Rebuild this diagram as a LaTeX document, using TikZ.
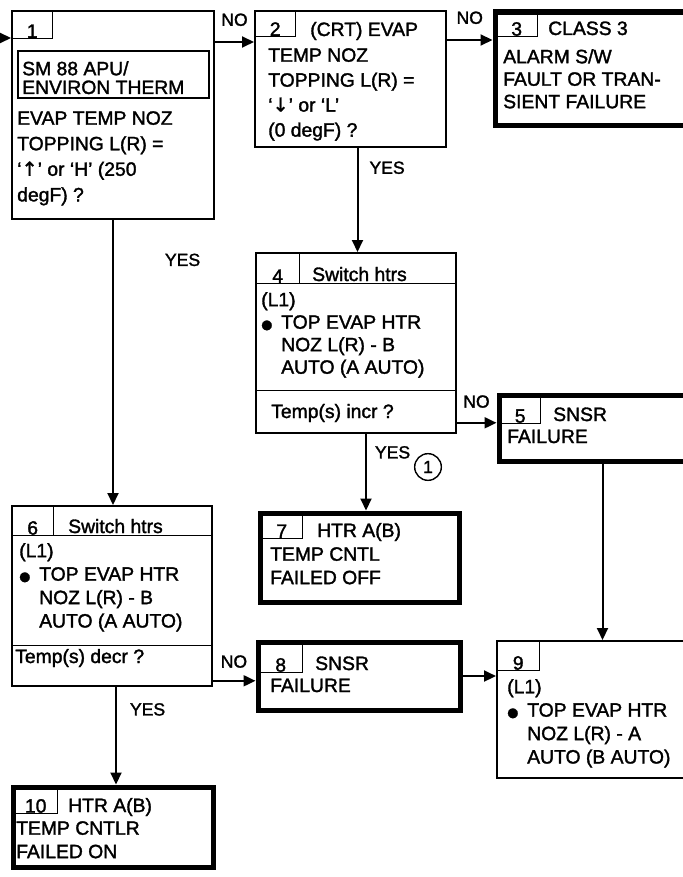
\documentclass[tikz,border=0pt]{standalone}
\usepackage{fontspec}
\setmainfont{Liberation Sans}[FakeBold=1.6]
\newfontfamily\symfont{DejaVu Sans}[FakeBold=1.6]
\usepackage{tikz}
\usetikzlibrary{arrows.meta, positioning, calc}

\newcommand{\boxfont}{\fontsize{16.5}{20}\selectfont}
\newcommand{\lblfont}{\fontsize{15}{18}\selectfont}
\newcommand{\dotbullet}{\makebox[0.6cm][l]{\symfont\fontsize{11}{11}\selectfont ●}}
\newcommand{\uparr}{{\symfont ↑}}
\newcommand{\downarr}{{\symfont ↓}}

\tikzset{
  box/.style={rectangle, draw=black, line width=1.7pt, anchor=north west, inner sep=0},
  endbox/.style={rectangle, draw=black, line width=4.3pt, anchor=north west, inner sep=0},
  tab/.style={rectangle, draw=black, line width=1.2pt, anchor=north west, inner sep=0},
  num/.style={inner sep=0, font=\boxfont},
  txt/.style={anchor=base west, align=left, inner sep=0, font=\boxfont},
  txtm/.style={txt, anchor=north west},
  lbl/.style={inner sep=0, font=\lblfont},
  arrow/.style={-{Triangle[length=0.36cm, width=0.33cm]}, line width=1.7pt}
}

\begin{document}
\begin{tikzpicture}[x=0.03cm, y=-0.03cm]
  \fill[white] (0,0) rectangle (683,877);
  \useasboundingbox (0,0) rectangle (683,877);

  % Boxes
  \node[box, minimum width=6.06cm, minimum height=6.24cm] (b1) at (11,10) {};
  \node[box, line width=1.5pt, minimum width=5.73cm, minimum height=1.41cm] (inb1) at (17,50) {};
  \node[tab, minimum width=1.23cm, minimum height=0.84cm] (t1) at (11,10) {};
  \node[box, minimum width=5.73cm, minimum height=4.08cm] (b2) at (254,10) {};
  \node[tab, minimum width=1.23cm, minimum height=0.78cm] (t2) at (254,10) {};
  \node[endbox, minimum width=6.3cm, minimum height=3.39cm] (b3) at (492.5,9.5) {};
  \node[tab, minimum width=1.26cm, minimum height=0.72cm] (t3) at (495,12) {};

  \node[box, minimum width=6.0cm, minimum height=5.4cm] (b4) at (255,252) {};
  \node[tab, minimum width=6.0cm, minimum height=0.93cm] (h4) at (255,252) {};
  \node[tab, minimum width=1.32cm, minimum height=0.93cm] (t4) at (255,252) {};
  \node[tab, anchor=south west, minimum width=6.0cm, minimum height=1.29cm] (q4) at (b4.south west) {};
  \node[endbox, minimum width=6.3cm, minimum height=1.98cm] (b5) at (496.5,392.5) {};
  \node[tab, minimum width=1.23cm, minimum height=0.84cm] (t5) at (499,395) {};

  \node[box, minimum width=6.0cm, minimum height=5.4cm] (b6) at (11,505) {};
  \node[tab, minimum width=6.0cm, minimum height=0.9cm] (h6) at (11,505) {};
  \node[tab, minimum width=1.26cm, minimum height=0.9cm] (t6) at (11,505) {};
  \node[tab, anchor=south west, minimum width=6.0cm, minimum height=1.23cm] (q6) at (b6.south west) {};
  \node[endbox, minimum width=5.97cm, minimum height=2.67cm] (b7) at (257.5,510.5) {};
  \node[tab, minimum width=1.26cm, minimum height=0.75cm] (t7) at (260,513) {};
  \node[endbox, minimum width=6.06cm, minimum height=2.04cm] (b8) at (255.5,639.5) {};
  \node[tab, minimum width=1.32cm, minimum height=0.9cm] (t8) at (258,642) {};
  \node[box, minimum width=6.3cm, minimum height=4.11cm] (b9) at (496,640) {};
  \node[tab, minimum width=1.29cm, minimum height=0.9cm] (t9) at (496,640) {};
  \node[endbox, minimum width=6.0cm, minimum height=2.4cm] (b10) at (10.5,784.5) {};
  \node[tab, minimum width=1.32cm, minimum height=0.78cm] (t10) at (13,787) {};

  % Numbers
  \node[num, above=0.04cm of t1.south] (n1) {1};
  \node[num, above=0.04cm of t2.south] (n2) {2};
  \node[num, above=0.04cm of t3.south] (n3) {3};
  \node[num, above=0.04cm of t4.south] (n4) {4};
  \node[num, above=0.04cm of t5.south] (n5) {5};
  \node[num, above=0.04cm of t6.south] (n6) {6};
  \node[num, above=0.04cm of t7.south] (n7) {7};
  \node[num, above=0.04cm of t8.south] (n8) {8};
  \node[num, above=0.04cm of t9.south] (n9) {9};
  \node[num, above=0.04cm of t10.south] (n10) {10};

  % Texts
  \node[txtm, font=\fontsize{16.5}{16}\selectfont] (m1) at (22,61) {SM 88 APU/\\ENVIRON THERM};
  \node[txtm, font=\fontsize{16.5}{21.8}\selectfont] (p1) at (17,111) {EVAP TEMP NOZ\\TOPPING L(R) =\\‘\uparr’ or ‘H’ (250\\degF) ?};
  \node[txt] (c2) at (310,36) {(CRT) EVAP};
  \node[txtm, font=\fontsize{16.5}{21.3}\selectfont] (p2) at (268,48) {TEMP NOZ\\TOPPING L(R) =\\‘\downarr’ or ‘L’\\(0 degF) ?};
  \node[txt] (c3) at (548,35) {CLASS 3};
  \node[txtm, font=\fontsize{16.5}{19.2}\selectfont] (p3) at (503,49) {ALARM S/W\\FAULT OR TRAN-\\SIENT FAILURE};
  \node[txt] (c4) at (312,281) {Switch htrs};
  \node[txtm, font=\fontsize{16.5}{19.2}\selectfont] (p4) at (261,292) {(L1)\\\dotbullet TOP EVAP HTR\\\hspace*{0.6cm}NOZ L(R) - B\\\hspace*{0.6cm}AUTO (A AUTO)};
  \node[txt] (s4) at (271,418) {Temp(s) incr ?};
  \node[txt] (c5) at (553,421) {SNSR};
  \node[txt] (p5) at (507,443) {FAILURE};
  \node[txt] (c6) at (68,533) {Switch htrs};
  \node[txtm] (p6) at (19,543) {(L1)\\\dotbullet TOP EVAP HTR\\\hspace*{0.6cm}NOZ L(R) - B\\\hspace*{0.6cm}AUTO (A AUTO)};
  \node[txt] (s6) at (15,663) {Temp(s) decr ?};
  \node[txt] (c7) at (317,537) {HTR A(B)};
  \node[txtm] (p7) at (270,547) {TEMP CNTL\\FAILED OFF};
  \node[txt] (c8) at (315,670) {SNSR};
  \node[txt] (p8) at (270,692) {FAILURE};
  \node[txtm] (p9) at (507,679) {(L1)\\\dotbullet TOP EVAP HTR\\\hspace*{0.6cm}NOZ L(R) - A\\\hspace*{0.6cm}AUTO (B AUTO)};
  \node[txt] (c10) at (68,812) {HTR A(B)};
  \node[txtm] (p10) at (16,821) {TEMP CNTLR\\FAILED ON};
  \node[circle, draw, line width=1.2pt, minimum size=0.8cm, inner sep=0, font=\lblfont] (ref1) at (428,467) {1};

  % Paths
  \coordinate (in1) at (0,38);
  \draw[arrow] (in1) -- (in1 -| b1.west);
  \coordinate (y12) at ($(b1.north east)+(0,32)$);
  \draw[arrow] (y12) -- (y12 -| b2.west) node[lbl, midway, above=0.45cm] (no12) {NO};
  \coordinate (y23) at ($(b2.north east)+(0,30)$);
  \draw[arrow] (y23) -- (y23 -| b3.west) node[lbl, midway, above=0.45cm] (no23) {NO};
  \draw[arrow] (b1.south) -- (b1.south |- b6.north) node[lbl, pos=0.14, right=1.53cm] (yes16) {YES};
  \coordinate (x24) at ($(b2.south)+(7,0)$);
  \draw[arrow] (x24) -- (x24 |- b4.north) node[lbl, pos=0.19, right=0.33cm] (yes24) {YES};
  \coordinate (y45) at ($(q4.east)+(0,11)$);
  \draw[arrow] (y45) -- (y45 -| b5.west) node[lbl, midway, above=0.42cm] (no45) {NO};
  \coordinate (x47) at ($(b4.south)+(10,0)$);
  \draw[arrow] (x47) -- (x47 |- b7.north) node[lbl, pos=0.24, right=0.24cm] (yes47) {YES};
  \coordinate (x59) at ($(b5.south west)+(106,0)$);
  \draw[arrow] (x59) -- (x59 |- b9.north);
  \coordinate (y68) at ($(q6.east)+(0,15)$);
  \draw[arrow] (y68) -- (y68 -| b8.west) node[lbl, midway, above=0.36cm] (no68) {NO};
  \draw[arrow] (b8.east) -- (b8.east -| b9.west);
  \coordinate (x610) at ($(b6.south)+(4,0)$);
  \draw[arrow] (x610) -- (x610 |- b10.north) node[lbl, pos=0.23, right=0.39cm] (yes610) {YES};
\end{tikzpicture}
\end{document}
